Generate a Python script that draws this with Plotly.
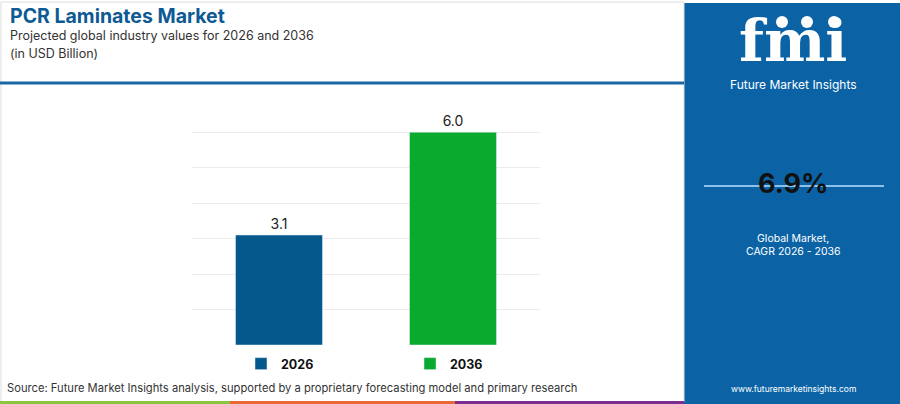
import plotly.graph_objects as go

years = ["2026", "2036"]
values = [3.1, 6.0]
bar_colors = ["#04588c", "#09aa2e"]
cagr = "6.9%"

W, H = 900, 404


def px(x):
    return x / W


def py(y):
    return 1 - y / H


fig = go.Figure()
for yr, v, c in zip(years, values, bar_colors):
    fig.add_trace(go.Bar(
        x=[yr], y=[v], name=yr, marker_color=c, width=0.5,
        text=[f"{v:.1f}"], textposition="outside",
        textfont=dict(size=14, color="#222222"),
        cliponaxis=False,
    ))

fig.update_layout(
    width=W, height=H,
    margin=dict(l=0, r=0, t=0, b=0),
    paper_bgcolor="white", plot_bgcolor="white",
    barmode="overlay",
    font=dict(family="Inter, Roboto, sans-serif"),
    xaxis=dict(domain=[px(192), px(540)], showticklabels=False, showgrid=False,
               zeroline=False, range=[-0.5, 1.5]),
    yaxis=dict(domain=[py(345), py(96)], range=[0, 7.02], dtick=1, showticklabels=False,
               gridcolor="#ececec", zeroline=False),
    legend=dict(orientation="h", x=px(241), y=py(364), yanchor="middle", xanchor="left",
                entrywidth=124, font=dict(size=12.5, color="#111111", weight="bold"),
                itemclick=False, bgcolor="rgba(0,0,0,0)"),
)

P = dict(xref="paper", yref="paper")
shapes = [
    # outer light border of left panel
    dict(type="rect", x0=px(1), x1=px(684), y0=py(402), y1=py(2),
         line=dict(color="#dddddd", width=1), **P),
    # header blue line
    dict(type="line", x0=0, x1=px(684), y0=py(83), y1=py(83),
         line=dict(color="#1a67a3", width=3), **P),
    # right panel
    dict(type="rect", x0=px(684), x1=1, y0=0, y1=py(3),
         fillcolor="#0b63a6", line=dict(width=0), layer="below", **P),
    dict(type="line", x0=px(704), x1=px(884), y0=py(186), y1=py(186),
         line=dict(color="#8cc2ea", width=2), **P),
    # bottom colour strip
    dict(type="rect", x0=0, x1=px(230), y0=0, y1=py(401), fillcolor="#8cc63f", line=dict(width=0), **P),
    dict(type="rect", x0=px(230), x1=px(455), y0=0, y1=py(401), fillcolor="#e8683a", line=dict(width=0), **P),
    dict(type="rect", x0=px(455), x1=px(684), y0=0, y1=py(401), fillcolor="#7b2c8f", line=dict(width=0), **P),
]
# small globe icons of the logo
for cx in [782, 807, 834]:
    shapes.append(dict(type="circle", x0=px(cx - 6), x1=px(cx + 6), y0=py(28), y1=py(16),
                       fillcolor="white", line=dict(width=0), **P))
fig.update_layout(shapes=shapes)

ann = [
    dict(text="<b>PCR Laminates Market</b>", x=px(8), y=py(16), size=19.5, color="#0d5a94"),
    dict(text="Projected global industry values for 2026 and 2036", x=px(8), y=py(36), size=12.5, color="#333333"),
    dict(text="(in USD Billion)", x=px(8), y=py(53), size=12.5, color="#333333"),
    dict(text="Source: Future Market Insights analysis, supported by a proprietary forecasting model and primary research",
         x=px(5), y=py(388), size=11.2, color="#333333"),
]
for a in ann:
    fig.add_annotation(text=a["text"], x=a["x"], y=a["y"], xref="paper", yref="paper",
                       xanchor="left", yanchor="middle", showarrow=False,
                       font=dict(size=a["size"], color=a["color"]))

right = [
    dict(text="<b>fmi</b>", y=41, size=58, color="white", family="DejaVu Serif, serif"),
    dict(text="Future Market Insights", y=85, size=12, color="white", family="Inter, sans-serif"),
    dict(text=f"<b>{cagr}</b>", y=184, size=27, color="#111111", family="Inter, sans-serif"),
    dict(text="Global Market,", y=238, size=10.5, color="white", family="Inter, sans-serif"),
    dict(text="CAGR 2026 - 2036", y=251, size=10.5, color="white", family="Inter, sans-serif"),
    dict(text="www.futuremarketinsights.com", y=389, size=8.5, color="white", family="Inter, sans-serif"),
]
for a in right:
    fig.add_annotation(text=a["text"], x=px(793), y=py(a["y"]), xref="paper", yref="paper",
                       xanchor="center", yanchor="middle", showarrow=False,
                       font=dict(size=a["size"], color=a["color"], family=a["family"]))

fig.write_html("out.html", config=dict(displayModeBar=False),
               post_script="document.body.style.margin='0';")
